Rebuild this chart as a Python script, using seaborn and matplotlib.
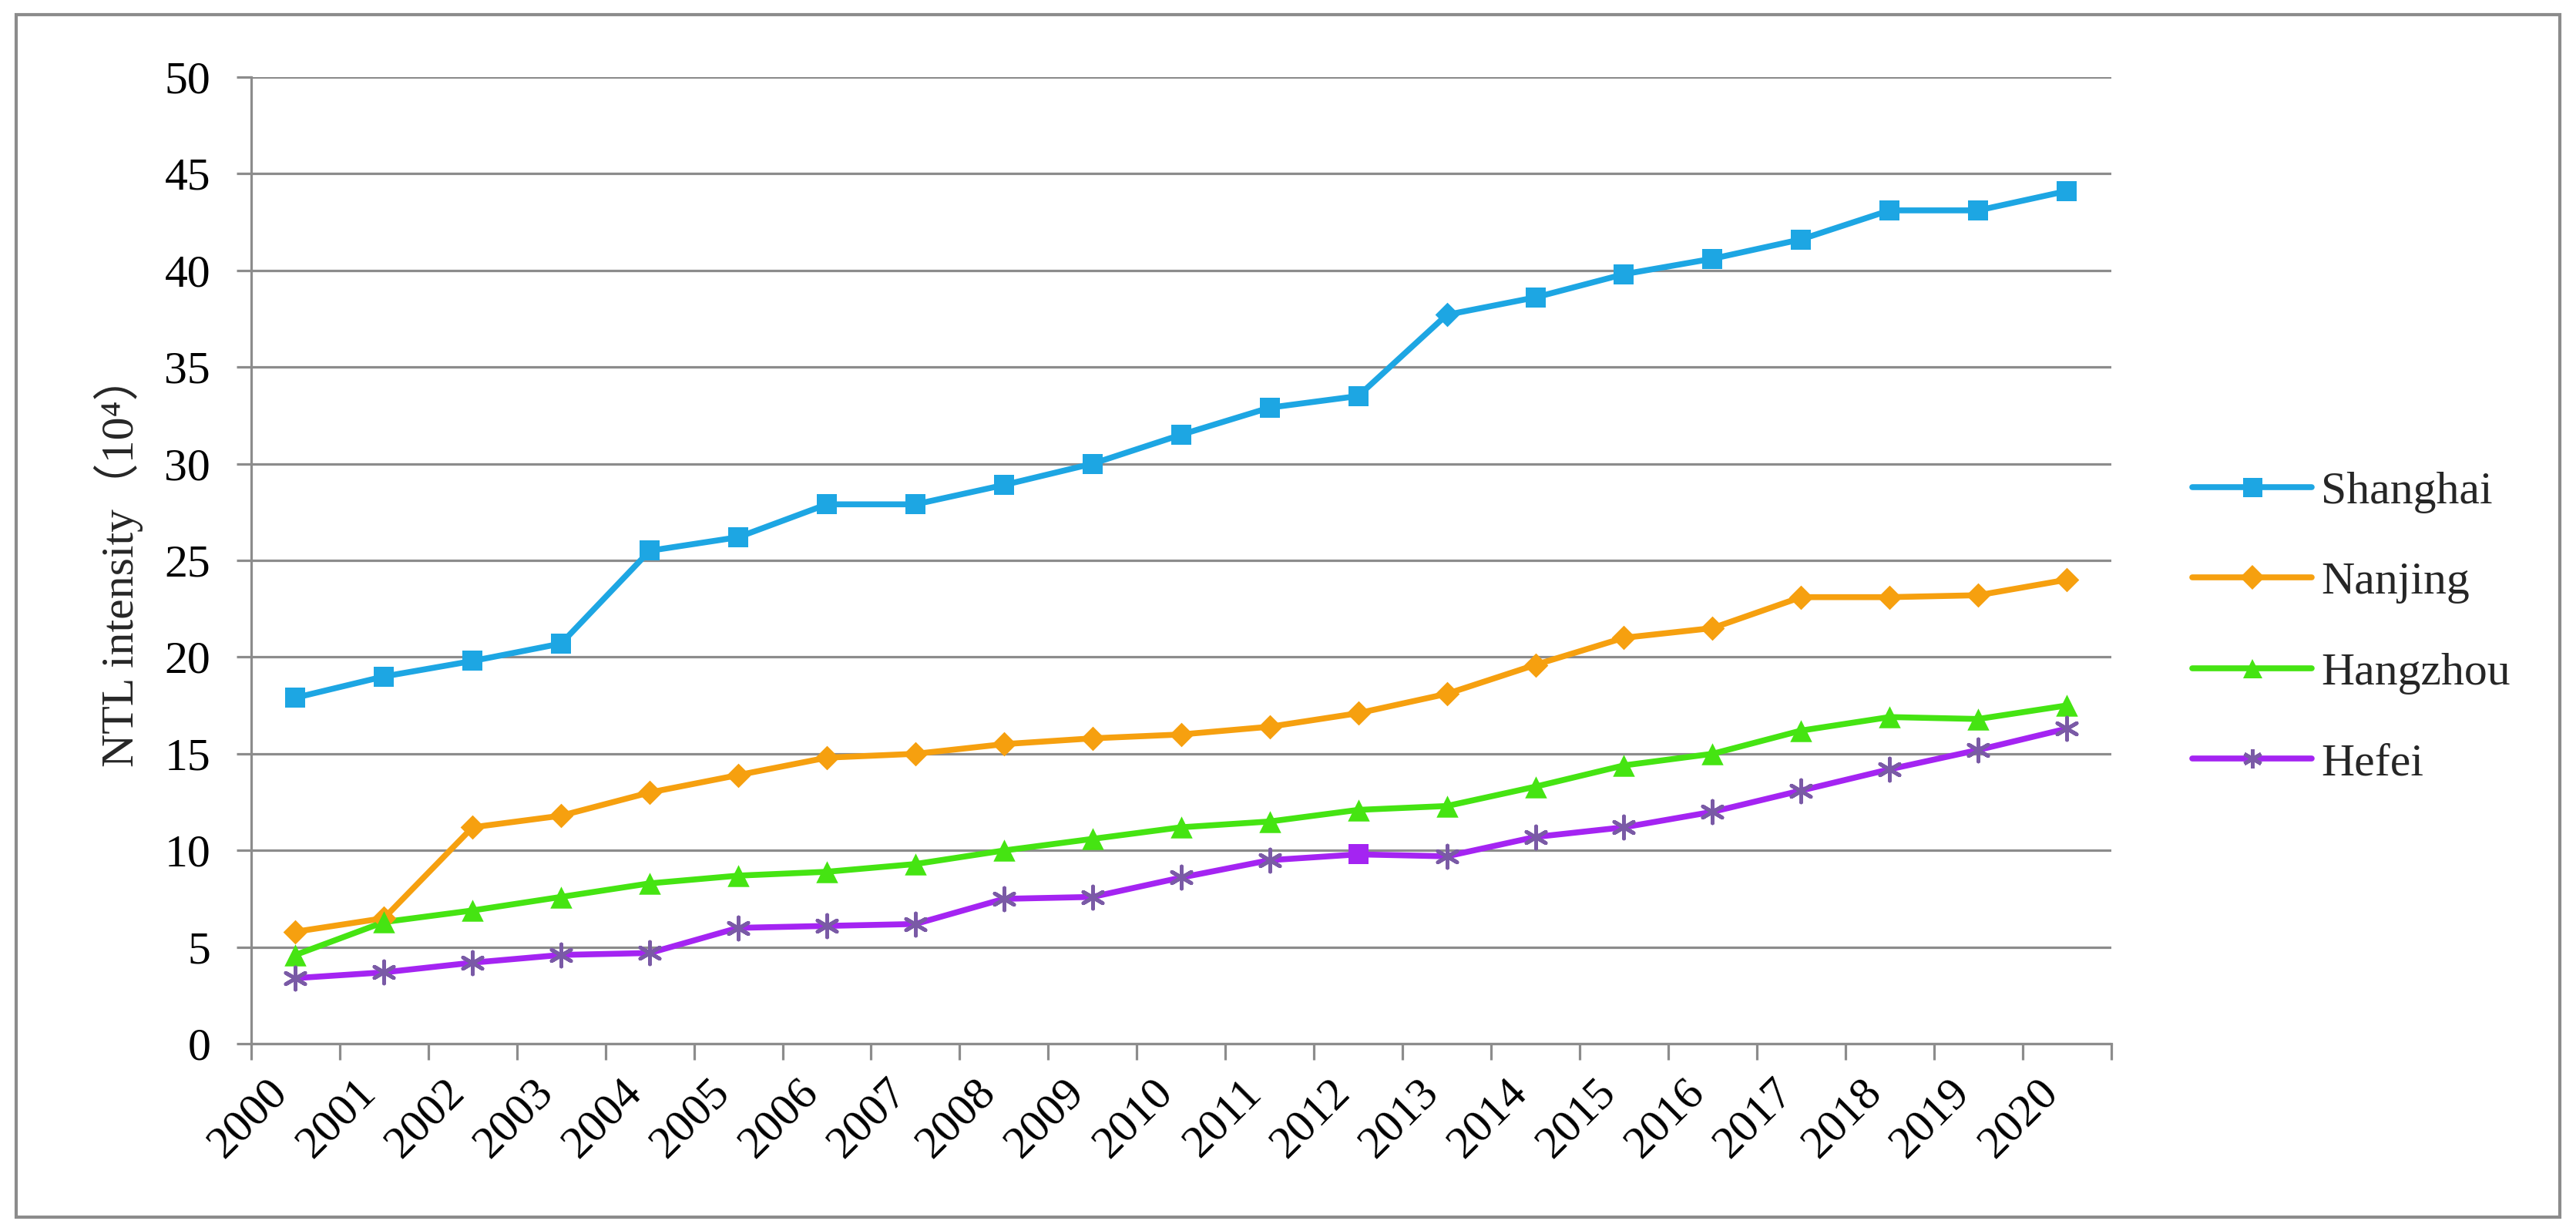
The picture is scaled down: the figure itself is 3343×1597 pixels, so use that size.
import pandas as pd
import matplotlib.pyplot as plt
import seaborn as sns
from matplotlib.lines import Line2D
from matplotlib.patches import Rectangle
from matplotlib.ticker import MultipleLocator

# data (NTL intensity, 10^4)
years = [str(y) for y in range(2000, 2021)]
shanghai = [17.9, 19.0, 19.8, 20.7, 25.5, 26.2, 27.9, 27.9, 28.9, 30.0, 31.5,
            32.9, 33.5, 37.7, 38.6, 39.8, 40.6, 41.6, 43.1, 43.1, 44.1]
nanjing = [5.8, 6.5, 11.2, 11.8, 13.0, 13.9, 14.8, 15.0, 15.5, 15.8, 16.0,
           16.4, 17.1, 18.1, 19.6, 21.0, 21.5, 23.1, 23.1, 23.2, 24.0]
hangzhou = [4.6, 6.3, 6.9, 7.6, 8.3, 8.7, 8.9, 9.3, 10.0, 10.6, 11.2,
            11.5, 12.1, 12.3, 13.3, 14.4, 15.0, 16.2, 16.9, 16.8, 17.5]
hefei = [3.4, 3.7, 4.2, 4.6, 4.7, 6.0, 6.1, 6.2, 7.5, 7.6, 8.6,
         9.5, 9.8, 9.7, 10.7, 11.2, 12.0, 13.1, 14.2, 15.2, 16.3]

cities = ["Shanghai", "Nanjing", "Hangzhou", "Hefei"]
colors = {"Shanghai": "#1da6e3", "Nanjing": "#f6a00f", "Hangzhou": "#45e412", "Hefei": "#a424f2"}
marker_colors = {"Shanghai": "#1da6e3", "Nanjing": "#f6a00f", "Hangzhou": "#45e412", "Hefei": "#7a5aa6"}
markers = {"Shanghai": "s", "Nanjing": "D", "Hangzhou": "^", "Hefei": (6, 2, 0)}
marker_sizes = {"Shanghai": 330, "Nanjing": 260, "Hangzhou": 420, "Hefei": 430}

# a couple of points in the original carry a different marker
odd_points = {"Shanghai": (["2013"], "D", "#1da6e3", 260),
              "Hefei": (["2012"], "s", "#a424f2", 330)}

df = pd.DataFrame({"year": years * len(cities),
                   "city": [c for c in cities for _ in years],
                   "value": shanghai + nanjing + hangzhou + hefei})

sns.set_theme(style="white")
plt.rcParams["font.family"] = ["Liberation Serif", "Noto Sans CJK SC"]
grid_col = "#8c8c8c"

fig, ax = plt.subplots(figsize=(33.43, 15.97), dpi=100)
fig.subplots_adjust(left=0.0975, right=0.8195, top=0.9375, bottom=0.152)

for city in cities:
    sub = df[df["city"] == city]
    sns.lineplot(data=sub, x="year", y="value", color=colors[city], linewidth=5.5,
                 ax=ax, legend=False, zorder=3)
    if city in odd_points:
        odd_years = odd_points[city][0]
        normal = sub[~sub["year"].isin(odd_years)]
        odd = sub[sub["year"].isin(odd_years)]
    else:
        normal = sub
        odd = None
    lw = 3.5 if city == "Hefei" else 0
    sns.scatterplot(data=normal, x="year", y="value", marker=markers[city],
                    s=marker_sizes[city], color=marker_colors[city],
                    edgecolor=marker_colors[city], linewidth=lw, ax=ax,
                    legend=False, zorder=4)
    if odd is not None:
        _, omk, ocol, osz = odd_points[city]
        sns.scatterplot(data=odd, x="year", y="value", marker=omk, s=osz,
                        color=ocol, edgecolor=ocol, linewidth=0, ax=ax,
                        legend=False, zorder=4)

ax.set_xlim(-0.5, len(years) - 0.5)
ax.set_ylim(0, 50)
ax.yaxis.set_major_locator(MultipleLocator(5))
ax.grid(axis="y", color=grid_col, linewidth=2.3, zorder=0)
ax.grid(axis="x", visible=False)
ax.set_axisbelow(True)

for side in ["top", "right"]:
    ax.spines[side].set_visible(False)
for side in ["left", "bottom"]:
    ax.spines[side].set_color(grid_col)
    ax.spines[side].set_linewidth(2.3)

ax.set_xticks(range(len(years)))
ax.set_xticklabels(years, rotation=45, ha="right")
ax.set_xticks([i - 0.5 for i in range(len(years) + 1)], minor=True)
ax.tick_params(axis="x", which="major", length=0, pad=26, labelsize=43, colors="black")
ax.tick_params(axis="x", which="minor", length=15, width=2.3, color=grid_col, bottom=True)
ax.tick_params(axis="y", length=14, width=2.3, color=grid_col, pad=24, labelsize=43,
               labelcolor="black", left=True)

ax.set_xlabel("")
ax.set_ylabel("NTL intensity（10⁴）", fontsize=43,
              family=["Liberation Serif", "Noto Sans CJK SC"])
ax.yaxis.set_label_coords(-0.058, 0.5)

handles = [Line2D([0], [0], color=colors[c], lw=5.5, marker=markers[c],
                  markersize=18 if c != "Nanjing" else 16,
                  markerfacecolor=marker_colors[c], markeredgecolor=marker_colors[c],
                  markeredgewidth=3.5 if c == "Hefei" else 0)
           for c in cities]
fig.legend(handles, cities, loc="center left", bbox_to_anchor=(0.851, 0.49),
           frameon=False, fontsize=43, handlelength=2.6, handletextpad=0.2,
           labelspacing=1.05, borderpad=0, borderaxespad=0)

fig.patches.append(Rectangle((21 / 3343, 18 / 1597), 3301 / 3343, 1560 / 1597,
                             transform=fig.transFigure, fill=False,
                             edgecolor=grid_col, linewidth=3))

fig.savefig("out.png", dpi=100, facecolor="white")
